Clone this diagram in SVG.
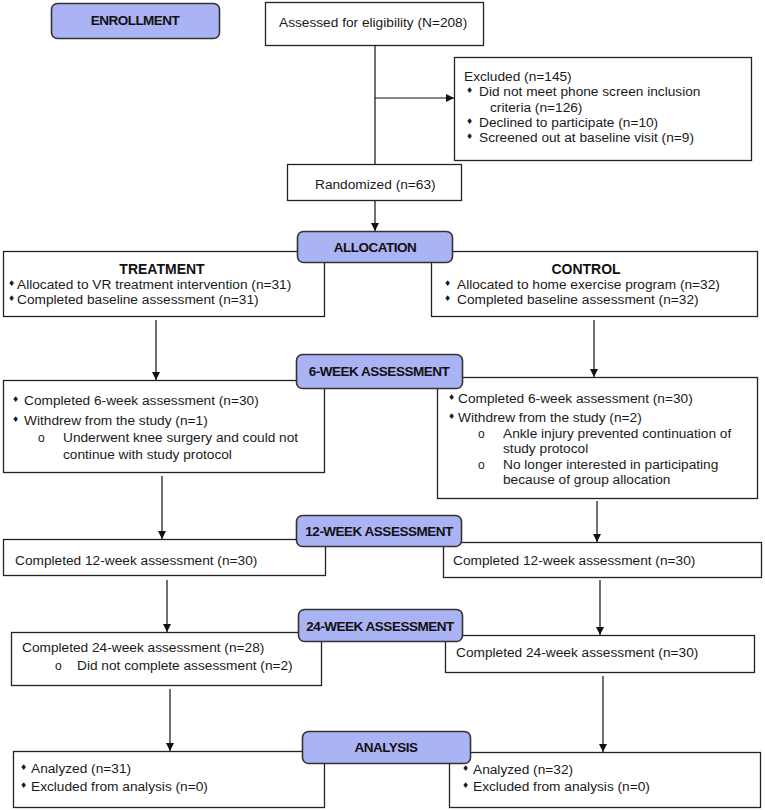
<svg xmlns="http://www.w3.org/2000/svg" width="765" height="810" viewBox="0 0 765 810">
<defs>
<marker id="ah" viewBox="0 0 10 10" refX="10" refY="5" markerWidth="8" markerHeight="8" markerUnits="userSpaceOnUse" orient="auto">
<path d="M0,0 L10,5 L0,10 z" fill="#111"/>
</marker>
<style>
.box{fill:#fff;stroke:#222;stroke-width:1.3}
.lab{fill:#aab3f3;stroke:#333;stroke-width:1.6}
.t{font-family:"Liberation Sans",Arial,sans-serif;font-size:13.7px;fill:#1a1a1a}
.b{font-family:"Liberation Sans",Arial,sans-serif;font-size:13.5px;font-weight:bold;fill:#111;letter-spacing:-0.5px;text-anchor:middle}
.h{font-family:"Liberation Sans",Arial,sans-serif;font-size:14px;font-weight:bold;fill:#111;text-anchor:middle}
.d{font-family:"DejaVu Sans",sans-serif;font-size:8px;fill:#1a1a1a}
.c{font-family:"Liberation Sans",Arial,sans-serif;font-size:12px;fill:#1a1a1a}
.ln{stroke:#111;stroke-width:1.2;fill:none}
.ar{stroke:#111;stroke-width:1.2;fill:none;marker-end:url(#ah)}
</style>
</defs>
<rect width="765" height="810" fill="#fff"/>

<g id="connectors">
<line class="ln" x1="375" y1="46" x2="375" y2="164"/>
<line class="ar" x1="375" y1="98" x2="454" y2="98"/>
<line class="ar" x1="375" y1="201" x2="375" y2="231"/>
<line class="ar" x1="156" y1="320" x2="156" y2="380"/>
<line class="ar" x1="594" y1="320" x2="594" y2="377"/>
<line class="ar" x1="162" y1="476" x2="162" y2="539"/>
<line class="ar" x1="597" y1="501" x2="597" y2="542"/>
<line class="ar" x1="167" y1="580" x2="167" y2="632"/>
<line class="ar" x1="600" y1="580" x2="600" y2="635"/>
<line class="ar" x1="170" y1="689" x2="170" y2="751"/>
<line class="ar" x1="603" y1="676" x2="603" y2="752"/>
</g>

<g id="assessed">
<rect class="box" x="265.5" y="2.5" width="218" height="43"/>
<text class="t" x="279" y="27">Assessed for eligibility (N=208)</text>
</g>

<g id="excluded">
<rect class="box" x="454.5" y="57.5" width="297" height="103"/>
<text class="t" x="464" y="81">Excluded (n=145)</text>
<text class="d" x="466" y="93">♦</text>
<text class="t" x="479" y="96">Did not meet phone screen inclusion</text>
<text class="t" x="490" y="112">criteria (n=126)</text>
<text class="d" x="466" y="124">♦</text>
<text class="t" x="479" y="127">Declined to participate (n=10)</text>
<text class="d" x="466" y="139">♦</text>
<text class="t" x="479" y="142">Screened out at baseline visit (n=9)</text>
</g>

<g id="randomized">
<rect class="box" x="287.5" y="164.5" width="174" height="36"/>
<text class="t" x="315" y="189">Randomized (n=63)</text>
</g>

<g id="treatment">
<rect class="box" x="3.5" y="251.5" width="321" height="65"/>
<text class="h" x="162" y="274">TREATMENT</text>
<text class="d" x="8" y="286">♦</text>
<text class="t" x="17" y="289">Allocated to VR  treatment intervention  (n=31)</text>
<text class="d" x="8" y="301">♦</text>
<text class="t" x="17" y="304">Completed baseline assessment  (n=31)</text>
</g>

<g id="control">
<rect class="box" x="431.5" y="251.5" width="326" height="65"/>
<text class="h" x="586" y="274">CONTROL</text>
<text class="d" x="444" y="286">♦</text>
<text class="t" x="457" y="289">Allocated to home exercise program (n=32)</text>
<text class="d" x="444" y="301">♦</text>
<text class="t" x="457" y="304">Completed baseline assessment  (n=32)</text>
</g>

<g id="treat6">
<rect class="box" x="3.5" y="380.5" width="321" height="92"/>
<text class="d" x="12" y="402">♦</text>
<text class="t" x="24" y="405">Completed 6-week assessment (n=30)</text>
<text class="d" x="12" y="422">♦</text>
<text class="t" x="24" y="425">Withdrew from the study (n=1)</text>
<text class="c" x="38" y="442">o</text>
<text class="t" x="63" y="442">Underwent knee surgery and could not</text>
<text class="t" x="63" y="459">continue with study protocol</text>
</g>

<g id="control6">
<rect class="box" x="437.5" y="377.5" width="320" height="121"/>
<text class="d" x="448" y="400">♦</text>
<text class="t" x="458" y="403">Completed 6-week assessment (n=30)</text>
<text class="d" x="448" y="419">♦</text>
<text class="t" x="458" y="422">Withdrew from the study (n=2)</text>
<text class="c" x="478" y="438">o</text>
<text class="t" x="503" y="438">Ankle injury prevented continuation of</text>
<text class="t" x="503" y="453">study protocol</text>
<text class="c" x="478" y="469">o</text>
<text class="t" x="503" y="469">No longer interested in participating</text>
<text class="t" x="503" y="484">because of group allocation</text>
</g>

<g id="treat12">
<rect class="box" x="3.5" y="539.5" width="322" height="36"/>
<text class="t" x="15" y="565">Completed 12-week assessment (n=30)</text>
</g>

<g id="control12">
<rect class="box" x="443.5" y="542.5" width="318" height="35"/>
<text class="t" x="453" y="565">Completed 12-week assessment (n=30)</text>
</g>

<g id="treat24">
<rect class="box" x="11.5" y="632.5" width="310" height="53"/>
<text class="t" x="22" y="652">Completed 24-week assessment (n=28)</text>
<text class="c" x="55" y="670">o</text>
<text class="t" x="77" y="670">Did not complete assessment (n=2)</text>
</g>

<g id="control24">
<rect class="box" x="445.5" y="635.5" width="309" height="37"/>
<text class="t" x="456" y="657">Completed 24-week assessment (n=30)</text>
</g>

<g id="treatA">
<rect class="box" x="13.5" y="751.5" width="311" height="56"/>
<text class="d" x="20" y="770">♦</text>
<text class="t" x="31" y="773">Analyzed (n=31)</text>
<text class="d" x="20" y="788">♦</text>
<text class="t" x="31" y="791">Excluded from analysis (n=0)</text>
</g>

<g id="controlA">
<rect class="box" x="449.5" y="752.5" width="311" height="55"/>
<text class="d" x="462" y="771">♦</text>
<text class="t" x="473" y="774">Analyzed (n=32)</text>
<text class="d" x="462" y="788">♦</text>
<text class="t" x="473" y="791">Excluded from analysis (n=0)</text>
</g>

<g id="enrollment">
<rect class="lab" x="51.5" y="3.5" width="168" height="35" rx="6"/>
<text class="b" x="135" y="25">ENROLLMENT</text>
</g>

<g id="allocation">
<rect class="lab" x="297.5" y="231.5" width="155" height="31" rx="6"/>
<text class="b" x="375" y="252">ALLOCATION</text>
</g>

<g id="week6">
<rect class="lab" x="296.5" y="354.5" width="166" height="34" rx="6"/>
<text class="b" x="379" y="376">6-WEEK ASSESSMENT</text>
</g>

<g id="week12">
<rect class="lab" x="296.5" y="515.5" width="165" height="31" rx="6"/>
<text class="b" x="379" y="536">12-WEEK ASSESSMENT</text>
</g>

<g id="week24">
<rect class="lab" x="298.5" y="609.5" width="164" height="32" rx="6"/>
<text class="b" x="380" y="631">24-WEEK ASSESSMENT</text>
</g>

<g id="analysis">
<rect class="lab" x="302.5" y="731.5" width="168" height="32" rx="6"/>
<text class="b" x="386" y="752">ANALYSIS</text>
</g>
</svg>
